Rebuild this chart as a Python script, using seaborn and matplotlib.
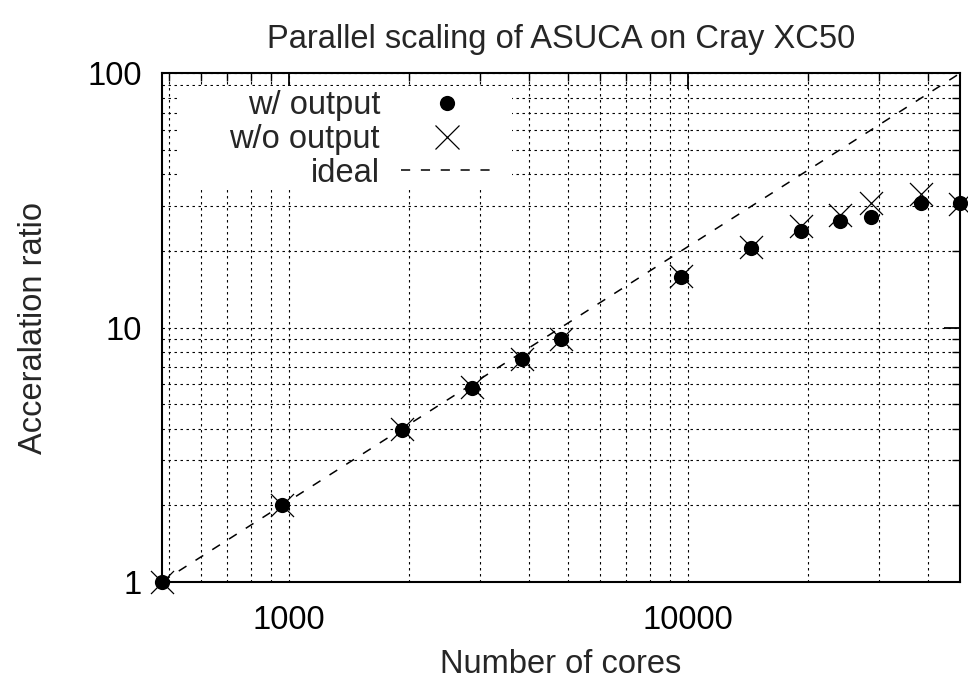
import matplotlib
matplotlib.use("Agg")
import matplotlib.pyplot as plt
import matplotlib.ticker as mticker
from matplotlib.lines import Line2D
from matplotlib.patches import Rectangle
import seaborn as sns
import pandas as pd

# ---- data ----
cores = [480, 960, 1920, 2880, 3840, 4800, 9600, 14400, 19200, 24000, 28800, 38400, 48000]
w_output = [1.0, 2.0, 3.95, 5.8, 7.5, 9.0, 15.8, 20.5, 24.0, 26.3, 27.3, 31.0, 30.8]
wo_output = [1.0, 2.0, 4.0, 5.85, 7.55, 9.0, 15.9, 20.7, 25.1, 27.7, 31.0, 33.5, 30.7]
ideal_cores = [480, 48000]
ideal_ratio = [1, 100]

title = "Parallel scaling of ASUCA on Cray XC50"
xlabel = "Number of cores"
ylabel = "Acceralation ratio"
xticks = [1000, 10000]
yticks = [1, 10, 100]
legend_labels = ["w/ output", "w/o output", "ideal"]

sns.set_style("white")
plt.rcParams["font.family"] = ["Liberation Sans", "DejaVu Sans"]
FS = 23.5
W, H = 968, 680
L, R, T, B = 162, 960, 73.3, 581.7

fig = plt.figure(figsize=(W / 100, H / 100), dpi=100)
ax = fig.add_axes([L / W, 1 - B / H, (R - L) / W, (B - T) / H])

df_w = pd.DataFrame({"cores": cores, "ratio": w_output})
df_wo = pd.DataFrame({"cores": cores, "ratio": wo_output})
df_i = pd.DataFrame({"cores": ideal_cores, "ratio": ideal_ratio})

DASH = (0, (6, 7))
sns.lineplot(data=df_i, x="cores", y="ratio", ax=ax, color="black",
             linestyle=DASH, linewidth=1.1, zorder=2)
sns.scatterplot(data=df_w, x="cores", y="ratio", ax=ax, color="black",
                marker="o", s=120, edgecolor="black", linewidth=0, zorder=3, clip_on=False)
sns.scatterplot(data=df_wo, x="cores", y="ratio", ax=ax, color="black",
                marker="x", s=275, linewidth=0.9, zorder=4, clip_on=False)

ax.set_xscale("log")
ax.set_yscale("log")
ax.set_xlim(480, 48000)
ax.set_ylim(1, 100)

ax.xaxis.set_major_locator(mticker.FixedLocator(xticks))
ax.xaxis.set_major_formatter(mticker.FixedFormatter([str(t) for t in xticks]))
ax.xaxis.set_minor_locator(mticker.LogLocator(base=10, subs=range(2, 10), numticks=20))
ax.xaxis.set_minor_formatter(mticker.NullFormatter())
ax.yaxis.set_major_locator(mticker.FixedLocator(yticks))
ax.yaxis.set_major_formatter(mticker.FixedFormatter([str(t) for t in yticks]))
ax.yaxis.set_minor_locator(mticker.LogLocator(base=10, subs=range(2, 10), numticks=20))
ax.yaxis.set_minor_formatter(mticker.NullFormatter())

ax.grid(True, which="both", color="black", linestyle=(0, (2.2, 3.2)), linewidth=0.8)
ax.set_axisbelow(True)

ax.tick_params(which="both", direction="in", top=True, right=True, color="black",
               labelsize=FS, labelcolor="black")
ax.tick_params(which="major", length=11.3, width=1.3)
ax.tick_params(which="minor", length=6, width=1.0)
ax.tick_params(axis="x", which="major", pad=16.5)
ax.tick_params(axis="y", which="major", pad=14.4)
for sp in ax.spines.values():
    sp.set_visible(True)
    sp.set_color("black")
    sp.set_linewidth(1.5)

ax.set_xlabel(xlabel, fontsize=FS)
ax.xaxis.set_label_coords(0.5, (B - 649) / (B - T))
ax.set_ylabel(ylabel, fontsize=FS)
ax.yaxis.set_label_coords((48.6 - L) / (R - L), 0.5)
ax.set_title(title, fontsize=FS, pad=18)

# opaque key background
ax.add_patch(Rectangle((178 / W, 1 - 188 / H), (512 - 178) / W, (188 - 86) / H,
                       transform=fig.transFigure, facecolor="white", edgecolor="none",
                       zorder=1.5))

handles = [
    Line2D([], [], color="black", marker="o", linestyle="none", markersize=10.95,
           markeredgewidth=0),
    Line2D([], [], color="black", marker="x", linestyle="none", markersize=16.6,
           markeredgewidth=0.9),
    Line2D([], [], color="black", linestyle=DASH, linewidth=1.1),
]
leg = ax.legend(handles, legend_labels, loc="upper right",
                bbox_to_anchor=(493 / W, 1 - 90 / H), bbox_transform=fig.transFigure,
                markerfirst=False, fontsize=FS, frameon=False,
                handlelength=92 / (FS * 100 / 72), handletextpad=21 / (FS * 100 / 72),
                labelspacing=0.09, borderpad=0, borderaxespad=0)
leg.set_zorder(5)

fig.savefig("out.png", dpi=100)
